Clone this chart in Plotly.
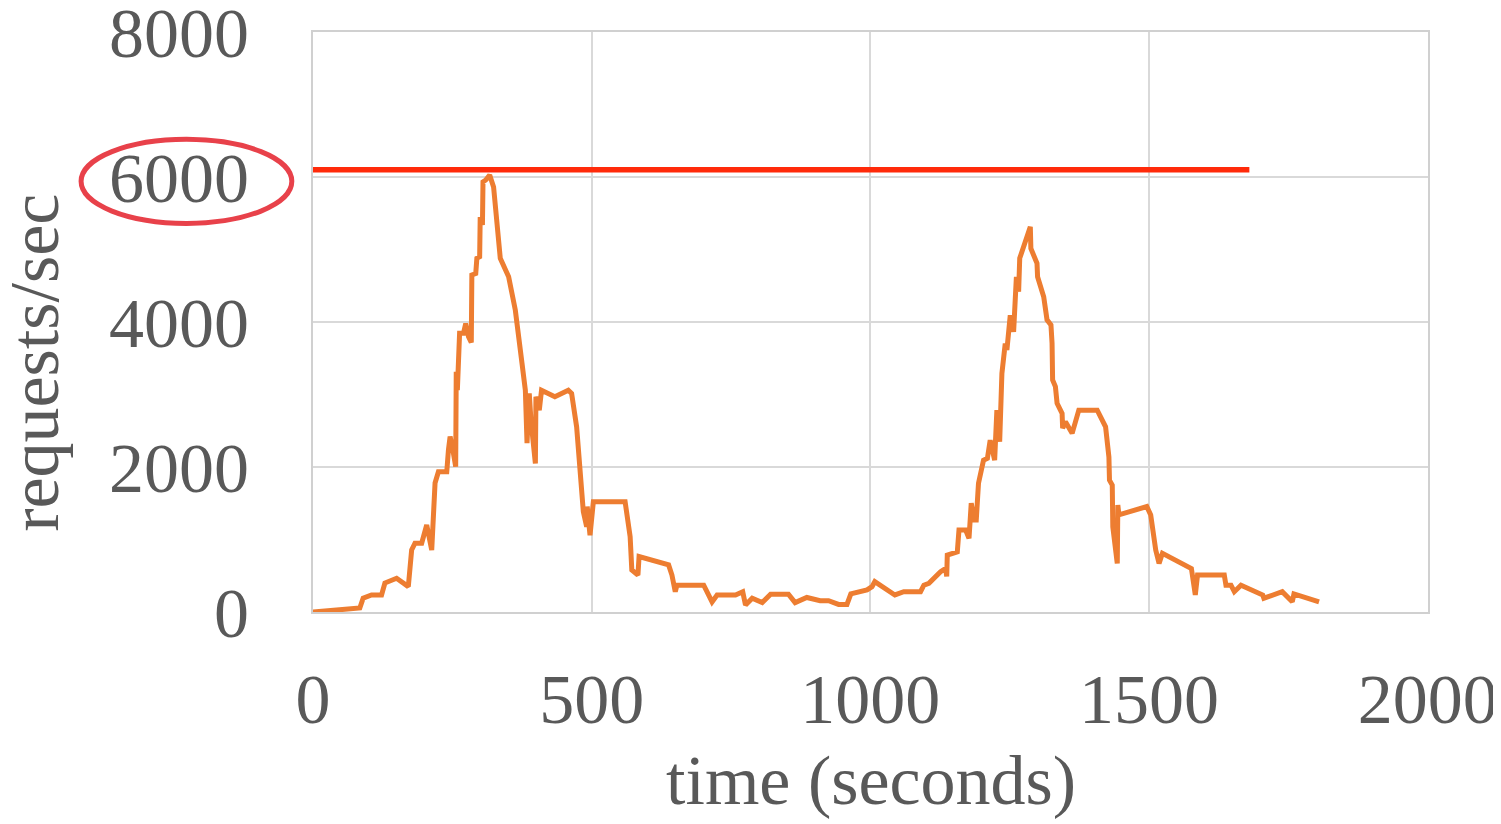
import plotly.graph_objects as go

# time (seconds) and requests/sec
time_s = [0, 84, 90, 105, 123, 129, 150, 171, 177, 183, 195, 204, 213, 219, 225, 240, 243, 246,
          252, 256, 257, 259, 263, 270, 274, 279, 284, 285, 292, 294, 299, 300, 304, 305, 310, 317,
          324, 336, 351, 363, 375, 381, 384, 388, 391, 399, 400, 406, 410, 434, 458, 464, 473, 485,
          491, 492, 497, 503, 560, 569, 572, 583, 585, 638, 644, 650, 653, 701, 716, 725, 758, 771,
          776, 788, 806, 821, 853, 865, 886, 910, 925, 943, 958, 965, 994, 1003, 1008, 1018, 1044,
          1060, 1090, 1096, 1105, 1126, 1135, 1137, 1138, 1156, 1159, 1171, 1177, 1181, 1186, 1190,
          1194, 1203, 1210, 1215, 1223, 1227, 1232, 1236, 1242, 1245, 1248, 1251, 1257, 1262, 1266,
          1268, 1287, 1288, 1299, 1300, 1311, 1317, 1324, 1326, 1327, 1332, 1335, 1344, 1345, 1350,
          1362, 1374, 1407, 1422, 1428, 1429, 1434, 1435, 1443, 1444, 1446, 1496, 1503, 1512, 1518,
          1524, 1576, 1583, 1587, 1635, 1638, 1647, 1653, 1665, 1704, 1706, 1739, 1757, 1760, 1805]
requests = [0, 55, 190, 235, 235, 400, 465, 350, 855, 950, 950, 1200, 855, 1780, 1935, 1935, 2235, 2420,
            2190, 2005, 3315, 3060, 3845, 3845, 3980, 3800, 3720, 4650, 4670, 4880, 4900, 5450, 5340, 5935, 5960, 6030,
            5865, 4880, 4625, 4165, 3430, 3060, 2330, 3015, 2650, 2050, 2970, 2785, 3060, 2970, 3060, 3015, 2555, 1385,
            1175, 1455, 1060, 1520, 1520, 1040, 580, 510, 765, 650, 510, 280, 370, 370, 140, 235, 235, 280,
            95, 190, 130, 245, 245, 130, 200, 155, 155, 105, 105, 250, 305, 350, 420, 370, 235,
            280, 280, 370, 395, 555, 600, 490, 785, 830, 1130, 1130, 1015, 1500, 1270, 1270,
            1775, 2095, 2120, 2370, 2095, 2785, 2350, 3290, 3705, 3615, 3800, 4095, 3865, 4625, 4420,
            4880, 5315, 5015, 4810, 4625, 4350, 4030, 3960, 3705, 3200, 3110, 2880, 2740, 2535, 2625,
            2465, 2785, 2785, 2555, 2140, 1820, 1750, 1175, 670, 1475, 1340, 1455, 1340, 855, 670,
            810, 600, 235, 510, 510, 370, 370, 280, 370, 235, 190, 280, 140, 250, 140]

capacity_y = 6100
capacity_x = [0, 1680]

x_ticks = [0, 500, 1000, 1500, 2000]
y_ticks = [0, 2000, 4000, 6000, 8000]

FONT = "Liberation Serif, Times New Roman, serif"
TXT = "#595959"
GRID = "#d9d9d9"

fig = go.Figure()
fig.add_trace(go.Scatter(x=time_s, y=requests, mode="lines",
                         line=dict(color="#ed7d31", width=5), showlegend=False))

fig.add_shape(type="line", xref="x", yref="y", x0=capacity_x[0], x1=capacity_x[1],
              y0=capacity_y, y1=capacity_y, line=dict(color="#ff2a0a", width=5.5))

# ellipse around the 6000 tick label
fig.add_shape(type="circle", xref="paper", yref="paper",
              x0=-0.208, x1=-0.019, y0=0.670, y1=0.815,
              line=dict(color="#e8414a", width=5))

fig.update_layout(
    width=1493, height=816,
    margin=dict(l=305, r=73, t=24, b=212),
    paper_bgcolor="white", plot_bgcolor="white",
    font=dict(family=FONT, color=TXT, size=70),
    xaxis=dict(range=[0, 2000.5], tickvals=x_ticks, ticktext=[str(v) for v in x_ticks],
               showgrid=True, gridcolor=GRID, gridwidth=2, zeroline=False,
               showline=True, linecolor="#d0d0d0", linewidth=2, mirror=True,
               ticks="", ticklabelstandoff=25, automargin=False, ticklabeloverflow="allow",
               tickfont=dict(family=FONT, size=70, color=TXT)),
    yaxis=dict(range=[0, 8002], tickvals=y_ticks, ticktext=[str(v) for v in y_ticks],
               showgrid=True, gridcolor=GRID, gridwidth=2, zeroline=False,
               showline=True, linecolor="#d0d0d0", linewidth=2, mirror=True,
               ticks="", ticklabelstandoff=48, automargin=False, ticklabeloverflow="allow",
               tickfont=dict(family=FONT, size=70, color=TXT)),
    annotations=[
        dict(text="time (seconds)", xref="paper", yref="paper", x=0.5, y=-0.29,
             xanchor="center", yanchor="middle", showarrow=False,
             font=dict(family=FONT, size=70, color=TXT)),
        dict(text="requests/sec", xref="paper", yref="paper", x=-0.25, y=0.43,
             xanchor="center", yanchor="middle", textangle=-90, showarrow=False,
             font=dict(family=FONT, size=70, color=TXT)),
    ],
)

fig.write_html("out.html")
